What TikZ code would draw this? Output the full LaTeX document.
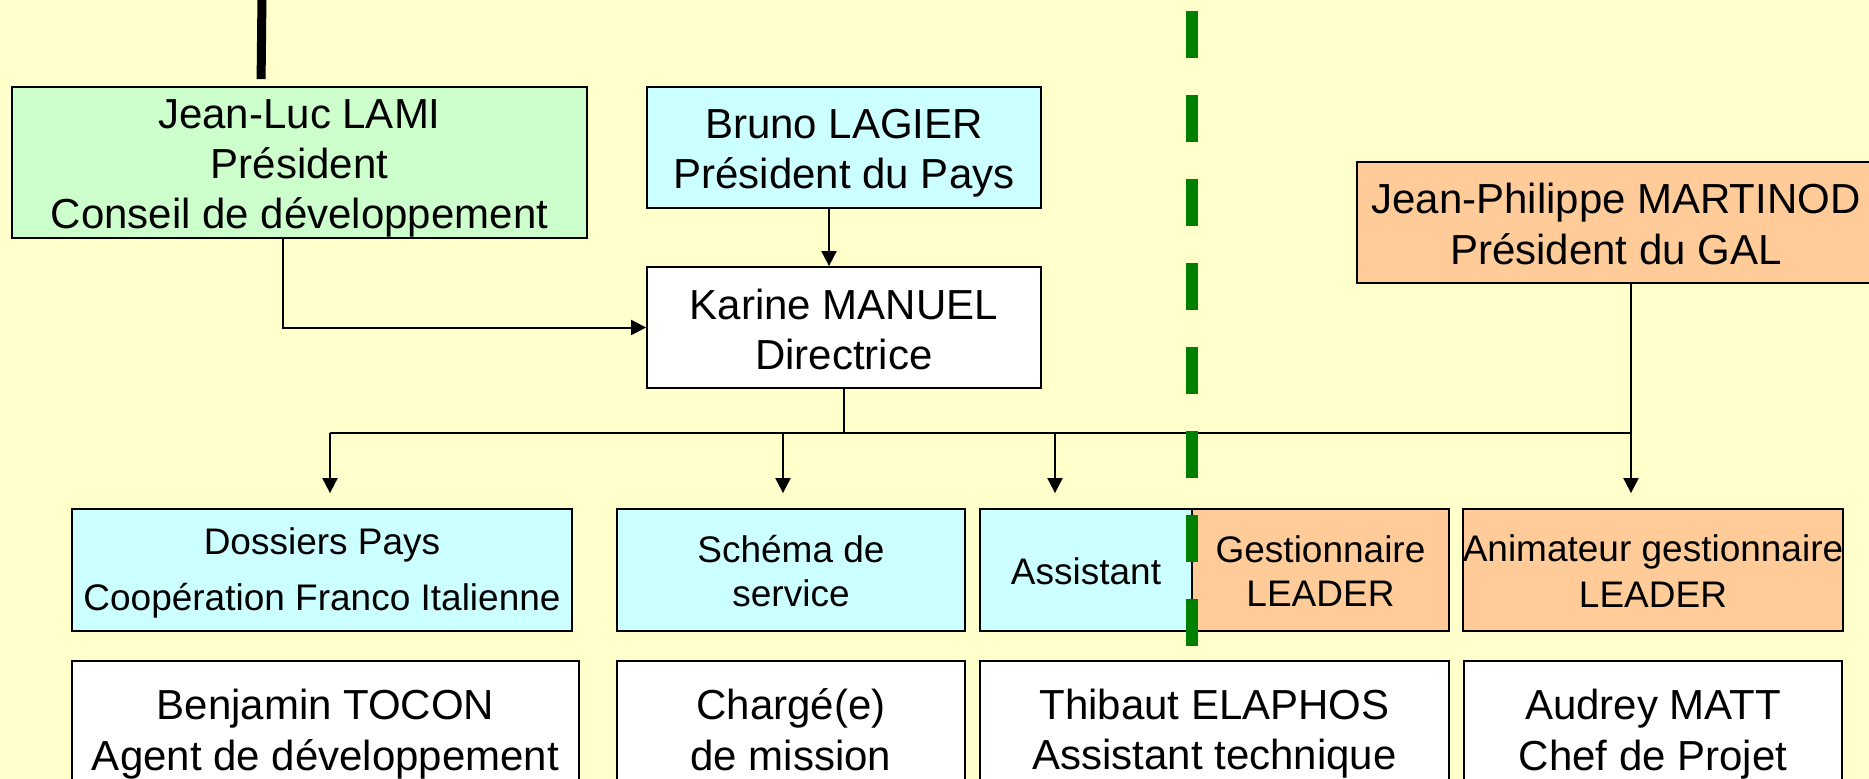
\documentclass[tikz,border=0pt]{standalone}
\usepackage{fontspec}
\setmainfont{Liberation Sans}
\usetikzlibrary{arrows.meta,calc}
\definecolor{bgy}{RGB}{255,255,204}
\definecolor{lgreen}{RGB}{204,255,204}
\definecolor{lcyan}{RGB}{204,255,255}
\definecolor{lorange}{RGB}{255,204,153}
\definecolor{dgreen}{RGB}{0,128,0}
\newcommand\BSt{\rule[-8.5pt]{0pt}{50pt}}
\newcommand\SSt{\rule[-7.5pt]{0pt}{44pt}}
\newcommand\DSt{\rule[-16pt]{0pt}{56pt}}
\begin{document}
\begin{tikzpicture}[x=1pt,y=-1pt,
  box/.style={draw=black, line width=1.8pt, inner sep=0pt, align=center, text=black},
  big/.style={font=\fontsize{42}{50}\selectfont},
  small/.style={font=\fontsize{37}{44}\selectfont},
  dsmall/.style={font=\fontsize{37}{56}\selectfont},
  conn/.style={line width=2pt, draw=black},
  arr/.style={conn, -{Triangle[length=15pt,width=15pt]}}]
\clip (0,0) rectangle (1869,779);
\fill[bgy] (0,0) rectangle (1869,779);

% top row
\node[box,big,fill=lgreen,minimum width=575pt,minimum height=151pt] (jeanluc) at (299.5,162.5)
  {\BSt Jean-Luc LAMI\\\BSt Président\\\BSt Conseil de développement};
\node[box,big,fill=lcyan,minimum width=394pt,minimum height=121pt] (bruno) at (844,147.5)
  {\BSt Bruno LAGIER\\\BSt Président du Pays};
\node[box,big,fill=white,minimum width=394pt,minimum height=121pt] (karine) at (844,327.5)
  {\BSt Karine MANUEL\\\BSt Directrice};
\node[box,big,fill=lorange,minimum width=518pt,minimum height=121pt] (martinod) at (1616,222.5)
  {\BSt Jean-Philippe MARTINOD\\\BSt Président du GAL};

% middle row
\node[box,dsmall,fill=lcyan,minimum width=500pt,minimum height=122pt] (dossiers) at (322,570)
  {\DSt Dossiers Pays\\\DSt Coopération Franco Italienne};
\node[box,small,fill=lcyan,minimum width=348pt,minimum height=122pt] (schema) at (791,570)
  {\SSt Schéma de\\\SSt service};
\node[box,small,fill=lcyan,minimum width=212pt,minimum height=122pt] (assistant) at (1086,570)
  {\SSt Assistant};
\node[box,small,fill=lorange,minimum width=257pt,minimum height=122pt] (gestion) at (1320.5,570)
  {\SSt Gestionnaire\\\SSt LEADER};
\node[box,small,fill=lorange,minimum width=378pt,minimum height=122pt] (animateur) at (1653,570)
  {\SSt Animateur gestionnaire\\\SSt LEADER};

% bottom row
\node[box,big,fill=white,minimum width=507pt,minimum height=135pt] (benjamin) at (325.5,728.5)
  {\BSt Benjamin TOCON\\\BSt Agent de développement};
\node[box,big,fill=white,minimum width=348pt,minimum height=135pt] (charge) at (791,728.5)
  {\BSt Chargé(e)\\\BSt de mission};
\node[box,big,fill=white,minimum width=469pt,minimum height=135pt] (thibaut) at (1214.5,728.5)
  {\BSt Thibaut ELAPHOS\\\BSt Assistant technique};
\node[box,big,fill=white,minimum width=378pt,minimum height=135pt] (audrey) at (1653,728.5)
  {\BSt Audrey MATT\\\BSt Chef de Projet};

% connectors
\coordinate (topA) at (262,-5);
\draw[line width=9pt] (topA) -- ($(jeanluc.north west)+(250,-7)$);
\draw[arr] ($(bruno.south)+(-15,0)$) -- ($(karine.north)+(-15,0)$);
\draw[arr] ($(jeanluc.south west)+(272,0)$) |- (karine.west);
\coordinate (busL) at (330,433);
\coordinate (busR) at (1631,433);
\coordinate (bS) at (783,433);
\coordinate (bA) at (1055,433);
\draw[conn] (karine.south) -- (karine.south |- busL);
\draw[conn] (busL) -- (busR);
\draw[arr, shorten >=15pt] (busL) -- (busL |- dossiers.north);
\draw[arr, shorten >=15pt] (bS) -- (bS |- schema.north);
\draw[arr, shorten >=15pt] (bA) -- (bA |- assistant.north);
\draw[arr, shorten >=15pt] (busR |- martinod.south) -- (busR |- animateur.north);

% green dashed separator
\coordinate (gTop) at (1192,11);
\coordinate (gBot) at (1192,647);
\draw[dgreen, line width=12pt, dash pattern=on 47pt off 37pt] (gTop) -- (gBot);
\end{tikzpicture}
\end{document}
